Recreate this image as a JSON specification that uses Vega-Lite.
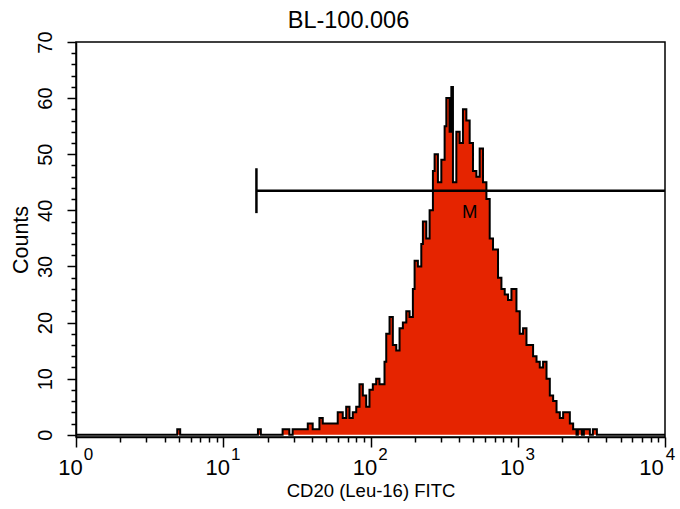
{
  "$schema": "https://vega.github.io/schema/vega-lite/v6.json",
  "width": 589,
  "height": 395,
  "autosize": {"type": "none"},
  "padding": {"left": 76, "top": 42, "right": 15, "bottom": 72},
  "background": "white",
  "config": {
    "view": {"stroke": "black", "strokeWidth": 1.5},
    "font": "Liberation Sans",
    "axis": {"grid": false, "labelColor": "black", "titleColor": "black", "tickColor": "black", "domainColor": "black", "labelFont": "Liberation Sans", "titleFont": "Liberation Sans"}
  },
  "title": {"text": "BL-100.006", "fontSize": 23.5, "fontWeight": "normal", "font": "Liberation Sans", "color": "black", "anchor": "middle", "dx": -22, "dy": 2, "offset": 0},
  "datasets": {
    "hist": [
      {"fl": 1, "count": 0}, {"fl": 4.87, "count": 1}, {"fl": 5.1, "count": 0},
      {"fl": 17.2, "count": 1}, {"fl": 18.0, "count": 0}, {"fl": 25.3, "count": 1},
      {"fl": 28.1, "count": 0}, {"fl": 29.6, "count": 1}, {"fl": 37.5, "count": 2},
      {"fl": 40.5, "count": 1}, {"fl": 45.0, "count": 3}, {"fl": 47.4, "count": 2},
      {"fl": 59.9, "count": 4}, {"fl": 64.8, "count": 3}, {"fl": 68.4, "count": 5},
      {"fl": 72.0, "count": 3}, {"fl": 75.8, "count": 4}, {"fl": 80.0, "count": 5},
      {"fl": 84.2, "count": 9}, {"fl": 88.7, "count": 7}, {"fl": 93.5, "count": 5},
      {"fl": 98.4, "count": 8}, {"fl": 103.7, "count": 9}, {"fl": 109.3, "count": 10},
      {"fl": 115.1, "count": 9}, {"fl": 124.5, "count": 13}, {"fl": 127.9, "count": 18},
      {"fl": 134.7, "count": 21}, {"fl": 141.8, "count": 16}, {"fl": 149.6, "count": 15},
      {"fl": 157.5, "count": 19}, {"fl": 165.9, "count": 20}, {"fl": 175.0, "count": 22},
      {"fl": 184.2, "count": 21}, {"fl": 194.0, "count": 26}, {"fl": 199.3, "count": 31},
      {"fl": 209.8, "count": 30}, {"fl": 221.3, "count": 34}, {"fl": 226.9, "count": 38},
      {"fl": 239.3, "count": 35}, {"fl": 252.0, "count": 40}, {"fl": 265.4, "count": 47},
      {"fl": 272.5, "count": 50}, {"fl": 287.0, "count": 45}, {"fl": 302.7, "count": 49},
      {"fl": 318.7, "count": 55}, {"fl": 327.3, "count": 60}, {"fl": 344.6, "count": 54},
      {"fl": 354.0, "count": 62}, {"fl": 363.0, "count": 45}, {"fl": 382.8, "count": 54},
      {"fl": 403.1, "count": 52}, {"fl": 424.5, "count": 58}, {"fl": 447.7, "count": 56},
      {"fl": 471.5, "count": 52}, {"fl": 496.5, "count": 47}, {"fl": 523.6, "count": 46},
      {"fl": 551.3, "count": 51}, {"fl": 580.6, "count": 45}, {"fl": 612.6, "count": 42},
      {"fl": 645.0, "count": 35}, {"fl": 679.2, "count": 33}, {"fl": 734.5, "count": 28},
      {"fl": 774.6, "count": 26}, {"fl": 815.7, "count": 25}, {"fl": 859.0, "count": 24},
      {"fl": 906.0, "count": 26}, {"fl": 979.9, "count": 22}, {"fl": 1031.8, "count": 18},
      {"fl": 1086.7, "count": 19}, {"fl": 1146.1, "count": 16}, {"fl": 1271, "count": 14},
      {"fl": 1341, "count": 13}, {"fl": 1411, "count": 12}, {"fl": 1486, "count": 13},
      {"fl": 1568, "count": 10}, {"fl": 1651, "count": 7}, {"fl": 1739, "count": 6},
      {"fl": 1834, "count": 4}, {"fl": 1931, "count": 3}, {"fl": 2033, "count": 4},
      {"fl": 2145, "count": 4}, {"fl": 2258, "count": 2}, {"fl": 2378, "count": 1},
      {"fl": 2507, "count": 0}, {"fl": 2559, "count": 1}, {"fl": 2726, "count": 0},
      {"fl": 2812, "count": 1}, {"fl": 3089, "count": 0}, {"fl": 3237, "count": 1},
      {"fl": 3447, "count": 0}, {"fl": 10000, "count": 0}
    ],
    "marker": [{"start": 16.8, "end": 10000, "level": 43.5, "capLow": 39.5, "capHigh": 47.5, "labelX": 471, "labelY": 39.7, "name": "M"}]
  },
  "layer": [
    {
      "data": {"name": "hist"},
      "mark": {"type": "area", "interpolate": "step-after", "color": "#e52400"},
      "encoding": {
        "x": {"field": "fl", "type": "quantitative", "scale": {"type": "log", "domain": [1, 10000], "nice": false},
          "axis": {"orient": "bottom", "values": [1, 10, 100, 1000, 10000], "tickSize": 10, "tickWidth": 1.5, "domainWidth": 1.5, "labelExpr": "'10'", "labelFontSize": 22, "labelOffset": {"condition": {"test": "datum.value == 10000", "value": -14}, "value": -6}, "labelPadding": 10, "labelFlush": false, "labelOverlap": false, "title": "CD20 (Leu-16) FITC", "titleFontSize": 18.5, "titleFontWeight": "normal", "titlePadding": 3}},
        "y": {"field": "count", "type": "quantitative", "scale": {"domain": [-0.4, 70], "nice": false, "zero": false},
          "axis": {"orient": "left", "values": [0, 10, 20, 30, 40, 50, 60, 70], "tickSize": 9, "tickWidth": 1.5, "domainWidth": 1.5, "labelAngle": 270, "labelAlign": "center", "labelBaseline": "bottom", "labelFontSize": 20, "labelPadding": 12, "labelFlush": false, "labelOverlap": false, "title": "Counts", "titleFontSize": 21.5, "titleFontWeight": "normal", "titlePadding": 3}}
      }
    },
    {
      "data": {"name": "hist"},
      "mark": {"type": "line", "interpolate": "step-after", "color": "black", "strokeWidth": 2},
      "encoding": {
        "x": {"field": "fl", "type": "quantitative", "scale": {"type": "log", "domain": [1, 10000], "nice": false},
          "axis": {"orient": "bottom", "values": [1, 10, 100, 1000, 10000], "ticks": false, "domain": false, "labelExpr": "datum.value == 1 ? '0' : datum.value == 10 ? '1' : datum.value == 100 ? '2' : datum.value == 1000 ? '3' : '4'", "labelFontSize": 17, "labelOffset": {"condition": {"test": "datum.value == 10000", "value": 5}, "value": 12}, "labelPadding": 9, "labelFlush": false, "labelOverlap": false, "title": null}},
        "y": {"field": "count", "type": "quantitative", "scale": {"domain": [-0.4, 70], "nice": false, "zero": false},
          "axis": {"orient": "left", "values": [2, 4, 6, 8, 12, 14, 16, 18, 22, 24, 26, 28, 32, 34, 36, 38, 42, 44, 46, 48, 52, 54, 56, 58, 62, 64, 66, 68], "tickSize": 5, "tickWidth": 1.5, "labels": false, "domain": false, "title": null}}
      }
    },
    {
      "data": {"name": "marker"},
      "mark": {"type": "rule", "color": "black", "strokeWidth": 2.5},
      "encoding": {
        "x": {"field": "start", "type": "quantitative", "scale": {"type": "log", "domain": [1, 10000], "nice": false},
          "axis": {"orient": "bottom", "values": [2, 3, 4, 5, 6, 7, 8, 9, 20, 30, 40, 50, 60, 70, 80, 90, 200, 300, 400, 500, 600, 700, 800, 900, 2000, 3000, 4000, 5000, 6000, 7000, 8000, 9000], "tickSize": 5, "tickWidth": 1.5, "labels": false, "domain": false, "title": null}},
        "x2": {"field": "end"},
        "y": {"field": "level", "type": "quantitative", "scale": {"domain": [-0.4, 70], "nice": false, "zero": false}, "axis": null}
      }
    },
    {
      "data": {"name": "marker"},
      "mark": {"type": "rule", "color": "black", "strokeWidth": 2.5},
      "encoding": {
        "x": {"field": "start", "type": "quantitative", "scale": {"type": "log", "domain": [1, 10000], "nice": false}, "axis": null},
        "y": {"field": "capLow", "type": "quantitative", "scale": {"domain": [-0.4, 70], "nice": false, "zero": false}, "axis": null},
        "y2": {"field": "capHigh"}
      }
    },
    {
      "data": {"name": "marker"},
      "mark": {"type": "text", "fontSize": 18.5, "font": "Liberation Sans", "color": "black", "align": "center", "baseline": "middle"},
      "encoding": {
        "x": {"field": "labelX", "type": "quantitative", "scale": {"type": "log", "domain": [1, 10000], "nice": false}, "axis": null},
        "y": {"field": "labelY", "type": "quantitative", "scale": {"domain": [-0.4, 70], "nice": false, "zero": false}, "axis": null},
        "text": {"field": "name"}
      }
    }
  ],
  "resolve": {"axis": {"x": "independent", "y": "independent"}}
}
